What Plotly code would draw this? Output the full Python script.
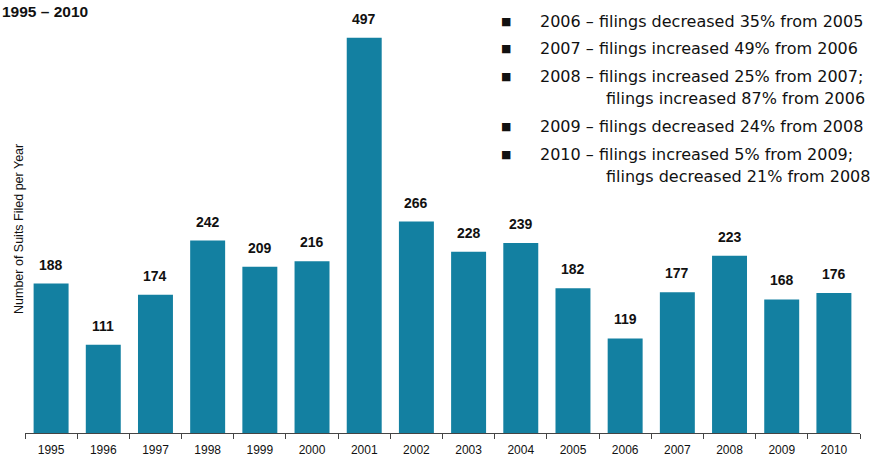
import plotly.graph_objects as go

years = [str(y) for y in range(1995, 2011)]
suits = [188, 111, 174, 242, 209, 216, 497, 266, 228, 239, 182, 119, 177, 223, 168, 176]

notes = [
    ("2006 – filings decreased 35% from 2005", None),
    ("2007 – filings increased 49% from 2006", None),
    ("2008 – filings increased 25% from 2007;", "filings increased 87% from 2006"),
    ("2009 – filings decreased 24% from 2008", None),
    ("2010 – filings increased 5% from 2009;", "filings decreased 21% from 2008"),
]

W, H = 870, 459
ml, mr, mt, mb = 25, 10, 10, 26

fig = go.Figure()
fig.add_trace(go.Bar(x=years, y=suits, marker_color="#1380A1", marker_line_width=0,
                     hoverinfo="x+y"))

for i, v in enumerate(suits):
    fig.add_annotation(x=i, y=v, text=f"<b>{v}</b>", showarrow=False, yanchor="bottom",
                       yshift=9, font=dict(family="Arial, Liberation Sans", size=14, color="#111"))

fig.add_annotation(xref="paper", yref="paper", x=-ml / (W - ml - mr), y=1 + (mt - 1) / (H - mt - mb),
                   xanchor="left", yanchor="top", text="<b>1995 – 2010</b>", showarrow=False,
                   font=dict(family="Arial, Liberation Sans", size=15.5, color="#111"))

fig.add_annotation(xref="paper", yref="paper", x=(19 - ml) / (W - ml - mr),
                   y=(H - mb - 229) / (H - mt - mb), text="Number of Suits Filed per Year",
                   textangle=-90, showarrow=False, xanchor="center", yanchor="middle",
                   font=dict(family="Arial, Liberation Sans", size=12.5, color="#111"))

# notes block (pixel positions converted to paper coords)
def px(xp):
    return (xp - ml) / (W - ml - mr)

def py(yp):
    return (H - mb - yp) / (H - mt - mb)

line_y = [21, 48, 76, 99, 127, 154, 176]
i = 0
for main, cont in notes:
    fig.add_annotation(xref="paper", yref="paper", x=px(499), y=py(line_y[i]), text="■",
                       showarrow=False, xanchor="left", yanchor="middle",
                       font=dict(family="DejaVu Sans", size=11, color="#111"))
    fig.add_annotation(xref="paper", yref="paper", x=px(538), y=py(line_y[i]), text=main,
                       showarrow=False, xanchor="left", yanchor="middle",
                       font=dict(family="DejaVu Sans", size=16, color="#111"))
    i += 1
    if cont:
        fig.add_annotation(xref="paper", yref="paper", x=px(604), y=py(line_y[i]), text=cont,
                           showarrow=False, xanchor="left", yanchor="middle",
                           font=dict(family="DejaVu Sans", size=16, color="#111"))
        i += 1

fig.update_layout(
    width=W, height=H, margin=dict(l=ml, r=mr, t=mt, b=mb, autoexpand=False),
    paper_bgcolor="white", plot_bgcolor="white", bargap=0.33, showlegend=False,
    xaxis=dict(type="category", range=[-0.5, len(years) - 0.5], showline=True, linecolor="#444",
               linewidth=1, ticks="outside", tickson="boundaries", ticklen=5, tickcolor="#444",
               showgrid=False, tickangle=0, automargin=False, ticklabelstandoff=6,
               tickfont=dict(family="Arial, Liberation Sans", size=12, color="#111")),
    yaxis=dict(range=[0, 532], showticklabels=False, showgrid=False, zeroline=False, showline=False,
               automargin=False),
)

fig.write_html("out.html", config={"displayModeBar": False},
               post_script="document.body.style.margin='0';")
